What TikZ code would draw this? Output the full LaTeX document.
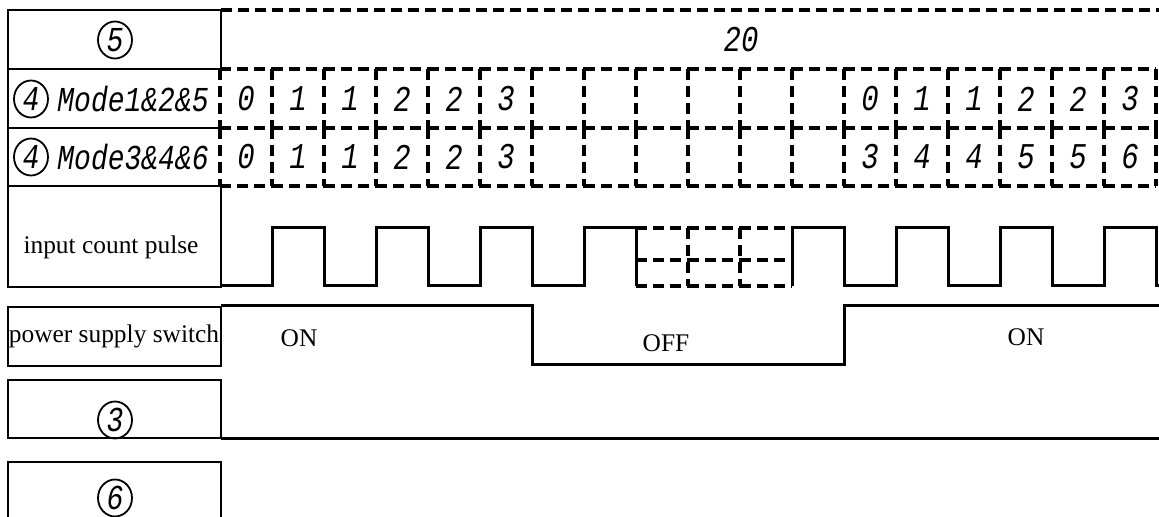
\documentclass[tikz,border=0pt]{standalone}
\usepackage{fontspec}
\setmainfont{Liberation Serif}
\newfontfamily\monofont{Liberation Mono}
\usepackage{graphicx}
\usetikzlibrary{positioning,shapes.geometric}

% tall slanted digits as in the counter rows
\newcommand{\tallit}[1]{\scalebox{1}[1.25]{\monofont\itshape #1}}

\begin{document}
\begin{tikzpicture}[x=0.5pt, y=-0.5pt,
    every node/.style={inner sep=0pt},
    box/.style={line width=0.75pt},
    dashcell/.style={line width=1.6pt, dash pattern=on 5.5pt off 3pt},
    wave/.style={line width=1.5pt, line join=miter},
    circnum/.style={draw, ellipse, line width=0.9pt, minimum width=17pt,
      minimum height=18.5pt, font=\fontsize{14}{14}\selectfont},
    modetxt/.style={font=\fontsize{14}{14}\selectfont, anchor=west},
    celltxt/.style={font=\fontsize{14.5}{14.5}\selectfont},
    plaintxt/.style={font=\fontsize{12.7}{13}\selectfont}]
  \useasboundingbox (0,0) rectangle (1159,517);
  % label column
  \draw[box] (221,69) -- (221,10) -- (8,10) -- (8,186) -- (221,186);
  \draw[box] (8,69) -- (221,69);
  \draw[box] (8,128) -- (221,128);
  \draw[box] (8,186) rectangle (221,287);
  \draw[box] (8,307) rectangle (221,366);
  \draw[box] (8,380) rectangle (221,438);
  \draw[box] (8,517) -- (8,462) -- (221,462) -- (221,517);
  % counter cells
  \draw[dashcell] (221,10) -- (1159,10);
  \foreach \i in {0,...,17}
    {
      \draw[dashcell] (220+52*\i,69) -- +(52,0);
      \draw[dashcell] (220+52*\i,128) -- +(52,0);
      \draw[dashcell] (220+52*\i,186) -- +(52,0);
    }
  \foreach \i in {0,...,18}
    {
      \draw[dashcell] (220+52*\i,69) -- +(0,59);
      \draw[dashcell] (220+52*\i,128) -- +(0,58);
    }
  \foreach \i/\a/\b in {0/0/0, 1/1/1, 2/1/1, 3/2/2, 4/2/2, 5/3/3,
                        12/0/3, 13/1/4, 14/1/4, 15/2/5, 16/2/5, 17/3/6}
    {
      \node[celltxt] (a\i) at (246+52*\i,99) {\tallit{\a}};
      \node[celltxt] (b\i) at (246+52*\i,157) {\tallit{\b}};
    }
  \node[celltxt] (total) at (741,40) {\tallit{20}};
  % row labels
  \node[circnum] (c5) at (115,40) {\tallit{5}};
  \node[circnum] (c4a) at (31,99) {\tallit{4}};
  \node[modetxt] (modeA) at (57,99) {\tallit{Mode1\&2\&5}};
  \node[circnum] (c4b) at (31,157) {\tallit{4}};
  \node[modetxt] (modeB) at (57,157) {\tallit{Mode3\&4\&6}};
  \node[plaintxt] (pulse) at (111,247) {input count pulse};
  \node[plaintxt] (power) at (114,336) {power supply switch};
  \node[circnum] (c3) at (115,420) {\tallit{3}};
  \node[circnum] (c6) at (115,498) {\tallit{6}};
  % input count pulse
  \draw[wave] (221,286) \foreach \i in {0,2,4,6}
    { -- (272+52*\i,286) -- (272+52*\i,228) -- (324+52*\i,228) -- (324+52*\i,286) };
  \draw[wave] (792,286) \foreach \i in {0,2,4}
    { -- (792+52*\i,228) -- (844+52*\i,228) -- (844+52*\i,286) -- (896+52*\i,286) }
    -- (1104,228) -- (1156,228) -- (1156,286) -- (1159,286);
  % lost pulses while power is off
  \foreach \i in {0,1,2}
    {
      \draw[dashcell] (636+52*\i,228) -- +(52,0);
      \draw[dashcell] (636+52*\i,260) -- +(52,0);
      \draw[dashcell] (636+52*\i,286) -- +(52,0);
    }
  \draw[dashcell] (688,228) -- (688,286);
  \draw[dashcell] (740,228) -- (740,286);
  % power supply switch
  \draw[wave] (221,306) -- (532,306) -- (532,365) -- (844,365) -- (844,306) -- (1159,306);
  \node[plaintxt] (on1) at (299,338) {ON};
  \node[plaintxt] (off) at (666,343) {OFF};
  \node[plaintxt] (on2) at (1026,337) {ON};
  % output 3
  \draw[wave] (221,438) -- (1159,438);
\end{tikzpicture}
\end{document}
